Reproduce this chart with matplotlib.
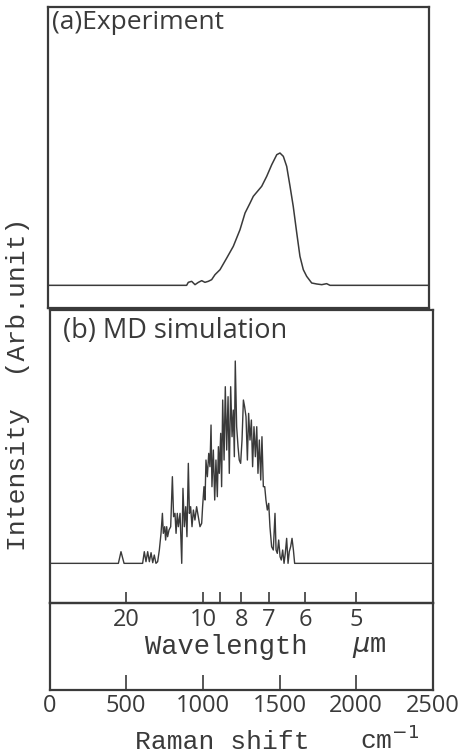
import matplotlib.pyplot as plt

# (a) experiment: Raman shift (cm-1) and intensity (arb. units)
exp_shift = [0, 911, 922, 944, 966, 988, 1010, 1031, 1053, 1075, 1097, 1130, 1174,
             1217, 1261, 1294, 1327, 1348, 1370, 1403, 1436, 1469, 1502, 1523, 1545,
             1567, 1589, 1610, 1633, 1654, 1676, 1698, 1731, 1764, 1797, 1829, 1851, 2500]
exp_int = [0, 0, 9, 12, 2, 9, 14, 9, 12, 17, 32, 47, 82,
           117, 167, 217, 247, 267, 279, 297, 327, 362, 392, 397, 387,
           357, 297, 237, 157, 87, 47, 27, 7, 4, 2, 5, 0, 0]

# (b) MD simulation
md_shift = [0, 449, 466, 486, 607, 618, 629, 640, 651, 662, 673, 683, 694, 705, 716,
            727, 736, 742, 751, 757, 764, 770, 779, 790, 801, 809, 818, 825, 833, 840,
            851, 862, 870, 879, 888, 896, 905, 912, 920, 929, 938, 948, 959, 970, 981,
            992, 998, 1007, 1014, 1020, 1029, 1038, 1046, 1053, 1059, 1068, 1077, 1085,
            1094, 1101, 1107, 1116, 1122, 1129, 1138, 1146, 1155, 1164, 1172, 1181, 1190,
            1198, 1205, 1211, 1220, 1229, 1237, 1246, 1255, 1264, 1272, 1281, 1290, 1298,
            1307, 1316, 1324, 1333, 1342, 1351, 1359, 1368, 1377, 1385, 1394, 1403, 1411,
            1420, 1429, 1437, 1448, 1459, 1470, 1477, 1485, 1494, 1503, 1511, 1520, 1529,
            1537, 1546, 1555, 1563, 1572, 1581, 1590, 1598, 2500]
md_int = [0, 0, 35, 0, 0, 35, 5, 35, 5, 32, 2, 25, 0, 5, 40,
          90, 150, 90, 110, 70, 110, 80, 100, 110, 260, 140, 150, 90, 150, 110,
          150, 0, 225, 110, 170, 80, 300, 150, 170, 110, 160, 130, 170, 140, 110,
          120, 170, 230, 190, 310, 260, 330, 290, 415, 230, 340, 190, 310,
          200, 350, 270, 390, 230, 490, 310, 530, 340, 500, 270, 530, 380,
          460, 320, 607, 410, 350, 310, 300, 370, 490, 470, 440, 310, 450,
          370, 430, 290, 410, 320, 410, 270, 370, 250, 380, 230, 230, 190,
          160, 180, 110, 50, 40, 150, 40, 30, 70, 20, 10, 40, 0,
          30, 75, 0, 35, 50, 75, 40, 0, 0]

shift_ticks = [0, 500, 1000, 1500, 2000, 2500]
wl_um = [20, 10, 9, 8, 7, 6, 5]
wl_labels = ['20', '10', '', '8', '7', '6', '5']

ink = '#3a3a3a'
mono = 'Liberation Mono'
sans = 'Open Sans'

fig = plt.figure(figsize=(4.67, 7.56), dpi=100)
ax_a = fig.add_axes([0.1021, 0.5926, 0.8165, 0.3981])
ax_x = fig.add_axes([0.1060, 0.0873, 0.8212, 0.1155])
ax_b = fig.add_axes([0.1060, 0.2028, 0.8212, 0.3871])

for ax in (ax_a, ax_b, ax_x):
    ax.set_xlim(0, 2500)
    ax.patch.set_visible(False)
    for s in ax.spines.values():
        s.set_linewidth(1.6)
        s.set_color(ink)

ax_a.plot(exp_shift, exp_int, color=ink, lw=1.1)
ax_a.set_ylim(-68, 835)
ax_a.set_xticks([])
ax_a.set_yticks([])
ax_a.text(0.012, 0.99, '(a)Experiment', transform=ax_a.transAxes, ha='left', va='top',
          fontsize=19, family=sans, color=ink)

ax_b.plot(md_shift, md_int, color=ink, lw=1.0)
ax_b.set_ylim(-118, 760)
ax_b.set_yticks([])
wl_pos = [1e4 / w for w in wl_um]
ax_b.set_xticks(wl_pos)
ax_b.set_xticklabels(wl_labels, family=sans, fontsize=17, color=ink)
ax_b.tick_params(axis='x', direction='in', length=8, width=1.2, color=ink, pad=4)
ax_b.text(0.035, 0.975, '(b) MD simulation', transform=ax_b.transAxes, ha='left', va='top',
          fontsize=19.5, family=sans, color=ink)

fig.text(0.0385, 0.492, 'Intensity  (Arb.unit)', rotation=90, ha='center', va='center',
         family=mono, fontsize=19, color=ink)

ax_x.set_ylim(0, 1)
ax_x.set_yticks([])
ax_x.set_xticks(shift_ticks)
ax_x.set_xticklabels([str(t) for t in shift_ticks], family=sans, fontsize=17, color=ink)
ax_x.tick_params(axis='x', direction='in', length=11, width=1.2, color=ink, pad=3)
ax_x.text(0.46, 0.49, 'Wavelength', transform=ax_x.transAxes, ha='center', va='center',
          family=mono, fontsize=19.5, color=ink)
ax_x.text(0.835, 0.49, r'$\mu$m', transform=ax_x.transAxes, ha='center', va='center',
          family=mono, fontsize=19.5, color=ink)
fig.text(0.475, 0.0185, 'Raman shift', ha='center', va='center', family=mono, fontsize=19, color=ink)
fig.text(0.835, 0.022, r'cm$^{-1}$', ha='center', va='center', family=mono, fontsize=19, color=ink)

fig.savefig('out.png', dpi=100, facecolor='white')
